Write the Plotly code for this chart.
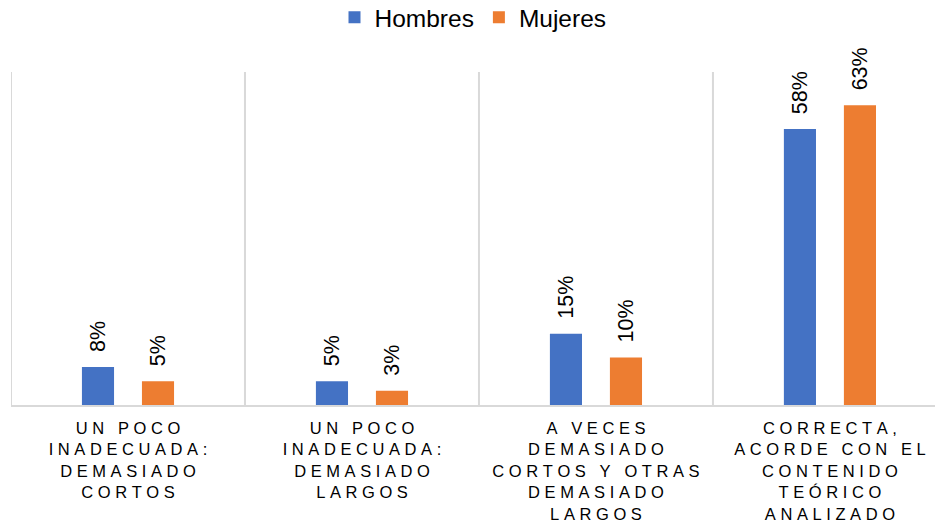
import plotly.graph_objects as go

categories = [
    "UN POCO\nINADECUADA:\nDEMASIADO\nCORTOS",
    "UN POCO\nINADECUADA:\nDEMASIADO\nLARGOS",
    "A VECES\nDEMASIADO\nCORTOS Y OTRAS\nDEMASIADO\nLARGOS",
    "CORRECTA,\nACORDE CON EL\nCONTENIDO\nTEÓRICO\nANALIZADO",
]
hombres = [8, 5, 15, 58]
mujeres = [5, 3, 10, 63]
series_names = ["Hombres", "Mujeres"]
colors = ["#4472C4", "#ED7D31"]

NB = "\u00a0"


def spaced(label):
    lines = label.split("\n")
    out = []
    for ln in lines:
        out.append(NB.join(ch if ch != " " else NB for ch in ln))
    return "<br>".join(out)


tick_text = [spaced(c) for c in categories]
xs = list(range(len(categories)))

fig = go.Figure()
for name, vals, col in zip(series_names, [hombres, mujeres], colors):
    fig.add_trace(go.Bar(
        x=xs, y=vals, name=name, marker_color=col, marker_line_width=0,
        text=[NB * 2 + f"{v}%" for v in vals], textposition="outside",
        textangle=-90, cliponaxis=False, constraintext="none",
        textfont=dict(size=21.5, color="#000000", family="Arial, Liberation Sans"),
    ))

fig.update_layout(
    width=935, height=524,
    margin=dict(l=11, r=0, t=72, b=119, autoexpand=False),
    paper_bgcolor="white", plot_bgcolor="white",
    barmode="group", bargap=0.487, bargroupgap=0.465,
    font=dict(family="Arial, Liberation Sans", color="#000000"),
    showlegend=True,
    legend=dict(orientation="h", x=0.5, xanchor="center", y=1.232, yanchor="top",
                font=dict(size=24.5, color="#000000"), itemwidth=30,
                bgcolor="rgba(0,0,0,0)", traceorder="normal"),
)
fig.update_xaxes(
    type="linear", range=[-0.5, 3.449],
    tickmode="array", tickvals=xs, ticktext=tick_text,
    showgrid=False, zeroline=False,
    showline=True, linecolor="#d9d9d9", linewidth=2,
    ticks="", tickfont=dict(size=16.5, color="#000000"),
    ticklabelstandoff=7,
    automargin=False, fixedrange=True,
)
# vertical separators at category boundaries
for b in [-0.5, 0.5, 1.5, 2.5]:
    fig.add_shape(type="line", xref="x", yref="paper", x0=b, x1=b, y0=0, y1=1,
                  line=dict(color="#d9d9d9", width=2), layer="below")
fig.update_yaxes(range=[0, 70], showgrid=False, zeroline=False,
                 showticklabels=False, showline=False, automargin=False)

fig.write_html("out.html", config={"displayModeBar": False},
               post_script="document.body.style.margin='0';")
